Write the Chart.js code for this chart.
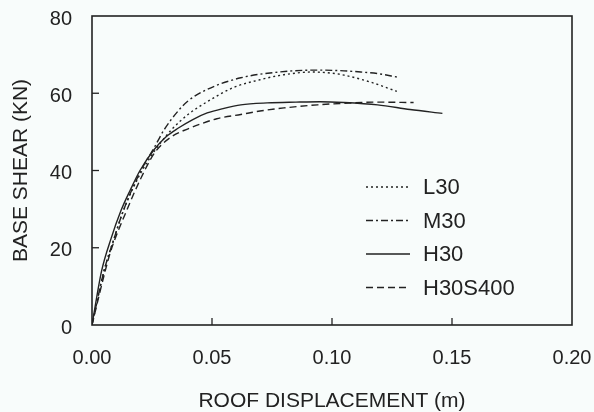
<!DOCTYPE html>
<html>
<head>
<meta charset="utf-8">
<script src="https://cdn.jsdelivr.net/npm/chart.js@4"></script>
<style>
  html, body { margin: 0; padding: 0; background: #f8fcfb; }
  #wrap { width: 594px; height: 412px; }
</style>
</head>
<body>
<div id="wrap"><canvas id="shearChart" width="594" height="412"></canvas></div>
<script>
// roof displacement (m) vs base shear (kN)
const seriesLabels = ['L30', 'M30', 'H30', 'H30S400'];

const l30X = [0, 0.005, 0.009, 0.013, 0.020, 0.026, 0.029, 0.033, 0.040, 0.048, 0.059, 0.070, 0.080, 0.092, 0.100, 0.105, 0.116, 0.127];
const l30Y = [0, 14, 22, 29.5, 39, 45, 47.5, 50.5, 54.5, 57.8, 61.5, 63.5, 64.8, 65.5, 65.2, 64.7, 62.9, 60.5];

const m30X = [0, 0.005, 0.009, 0.013, 0.020, 0.026, 0.030, 0.036, 0.040, 0.048, 0.062, 0.078, 0.094, 0.105, 0.112, 0.120, 0.127];
const m30Y = [0, 14, 22, 29.5, 39.5, 46, 50.5, 55.5, 58, 61, 64, 65.5, 66, 65.8, 65.5, 65, 64.2];

const h30X = [0, 0.004, 0.008, 0.012, 0.016, 0.020, 0.026, 0.031, 0.036, 0.042, 0.048, 0.055, 0.062, 0.073, 0.085, 0.095, 0.105, 0.119, 0.1325, 0.146];
const h30Y = [0, 14, 22.5, 29.5, 35, 40, 45.5, 48.8, 51, 53.2, 54.9, 56.1, 57, 57.5, 57.7, 57.8, 57.6, 57, 55.8, 54.8];

const h30s400X = [0, 0.0055, 0.008, 0.014, 0.020, 0.026, 0.033, 0.040, 0.045, 0.052, 0.062, 0.070, 0.080, 0.094, 0.105, 0.119, 0.134];
const h30s400Y = [0, 14, 19.5, 29, 37.5, 44.5, 48.7, 50.8, 52, 53.4, 54.5, 55.4, 56.2, 57, 57.4, 57.7, 57.6];

const xTicks = [0, 0.05, 0.10, 0.15, 0.20];
const yTicks = [0, 20, 40, 60, 80];

const ink = '#222222';
const dashes = [[2, 3], [7, 3, 2, 3], [], [7, 4]];
const xsAll = [l30X, m30X, h30X, h30s400X];
const ysAll = [l30Y, m30Y, h30Y, h30s400Y];

const datasets = seriesLabels.map((name, i) => ({
  label: name,
  data: xsAll[i].map((x, j) => ({ x: x, y: ysAll[i][j] })),
  showLine: true,
  borderColor: ink,
  borderWidth: 1.4,
  borderDash: dashes[i],
  pointRadius: 0,
  cubicInterpolationMode: 'monotone',
  fill: false
}));

// frame, inward ticks and the legend inside the plot
const framePlugin = {
  id: 'frame',
  afterDraw(chart) {
    const { ctx, chartArea: a, scales } = chart;
    ctx.save();
    ctx.strokeStyle = ink;
    ctx.lineWidth = 1.6;
    ctx.setLineDash([]);
    ctx.strokeRect(a.left, a.top, a.right - a.left, a.bottom - a.top);
    ctx.lineWidth = 1.3;
    xTicks.slice(1, -1).forEach(v => {
      const px = scales.x.getPixelForValue(v);
      ctx.beginPath(); ctx.moveTo(px, a.bottom); ctx.lineTo(px, a.bottom - 7); ctx.stroke();
    });
    yTicks.slice(1, -1).forEach(v => {
      const py = scales.y.getPixelForValue(v);
      ctx.beginPath(); ctx.moveTo(a.left, py); ctx.lineTo(a.left + 7, py); ctx.stroke();
    });

    // legend
    ctx.font = '22px "Liberation Sans", Arial, sans-serif';
    ctx.fillStyle = ink;
    ctx.textBaseline = 'middle';
    seriesLabels.forEach((name, i) => {
      const y = 187 + i * 33.5;
      ctx.lineWidth = 1.4;
      ctx.setLineDash(dashes[i]);
      ctx.beginPath(); ctx.moveTo(366, y); ctx.lineTo(410, y); ctx.stroke();
      ctx.setLineDash([]);
      ctx.fillText(name, 423, y + 1);
    });
    ctx.restore();
  }
};

const tickFont = { family: '"Liberation Sans", Arial, sans-serif', size: 20 };
const titleFont = { family: '"Liberation Sans", Arial, sans-serif', size: 21, lineHeight: 1.0 };

new Chart(document.getElementById('shearChart').getContext('2d'), {
  type: 'scatter',
  data: { datasets: datasets },
  options: {
    responsive: false,
    animation: false,
    layout: { padding: { top: 16, right: 22, left: 0, bottom: 0 } },
    plugins: { legend: { display: false }, tooltip: { enabled: false } },
    scales: {
      x: {
        type: 'linear',
        min: 0, max: 0.20,
        afterFit(s) { s.height = 87; s.paddingLeft = 0; s.paddingRight = 0; },
        afterBuildTicks(s) { s.ticks = xTicks.map(v => ({ value: v })); },
        grid: { display: false, drawTicks: false },
        border: { display: false },
        ticks: { color: ink, font: tickFont, padding: 21, callback: v => v.toFixed(2), maxRotation: 0 },
        title: { display: true, text: 'ROOF DISPLACEMENT (m)', color: ink, font: titleFont, padding: { top: 0, bottom: 0 } }
      },
      y: {
        type: 'linear',
        min: 0, max: 80,
        afterFit(s) { s.width = 92; s.paddingTop = 0; s.paddingBottom = 0; },
        afterBuildTicks(s) { s.ticks = yTicks.map(v => ({ value: v })); },
        grid: { display: false, drawTicks: false },
        border: { display: false },
        ticks: { color: ink, font: tickFont, padding: 20, labelOffset: 3 },
        title: { display: true, text: 'BASE SHEAR (KN)', color: ink, font: titleFont, padding: { top: 11, bottom: 0 } }
      }
    }
  },
  plugins: [framePlugin]
});
</script>
</body>
</html>
